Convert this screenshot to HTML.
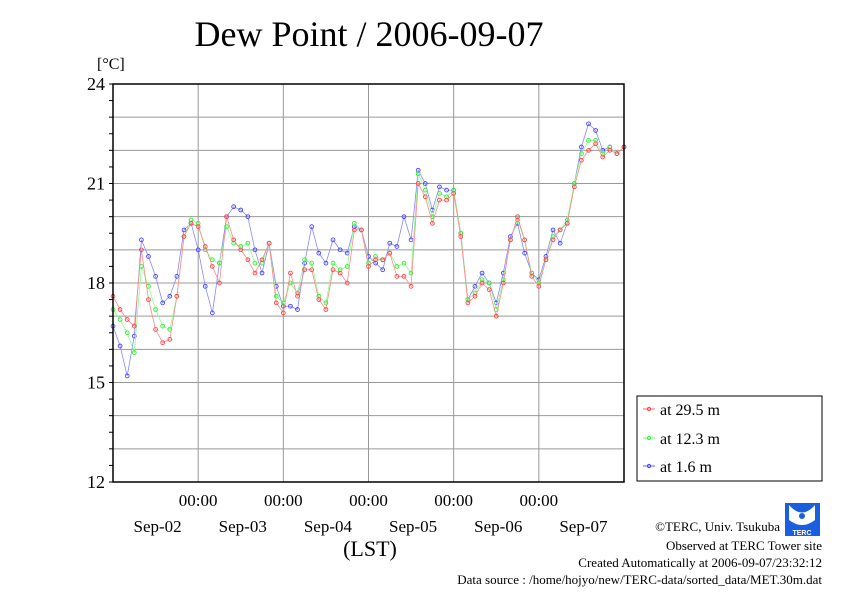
<!DOCTYPE html>
<html><head><meta charset="utf-8"><style>
html,body{margin:0;padding:0;background:#fff;}
svg{display:block;font-family:"Liberation Serif",serif;}
</style></head><body>
<svg id="chart" width="842" height="595" viewBox="0 0 842 595">
<rect width="842" height="595" fill="#fff"/>
<text x="369" y="46" font-size="36" text-anchor="middle">Dew Point / 2006-09-07</text>
<text x="97" y="69" font-size="16">[°C]</text>
<g id="grid"></g>
<g id="series"></g>
<rect x="113" y="84" width="511" height="398" fill="none" stroke="#000" stroke-width="1.5"/>
<g id="axes"></g>
<text x="370" y="556" font-size="22" text-anchor="middle">(LST)</text>
<g>
<rect x="637" y="396" width="185" height="85" fill="#fff" stroke="#000" stroke-width="1"/>
<g><line x1="643" y1="409" x2="655" y2="409" stroke="#f66"/><circle cx="649" cy="409" r="1.6" fill="none" stroke="#f44"/><text x="660" y="415" font-size="16">at 29.5 m</text></g>
<g><line x1="643" y1="438" x2="655" y2="438" stroke="#6f6"/><circle cx="649" cy="438" r="1.6" fill="none" stroke="#3e3"/><text x="660" y="444" font-size="16">at 12.3 m</text></g>
<g><line x1="643" y1="466" x2="655" y2="466" stroke="#66f"/><circle cx="649" cy="466" r="1.6" fill="none" stroke="#44f"/><text x="660" y="472" font-size="16">at 1.6 m</text></g>
</g>
<g>
<rect x="785" y="503" width="35" height="33" fill="#1a5fe0"/>
<path d="M789 505 Q802 520 815 505 L815 520 Q802 530 789 520 Z" fill="#fff"/>
<circle cx="802" cy="516" r="3" fill="#1a5fe0"/>
<text x="802" y="535" font-size="7" fill="#fff" text-anchor="middle" font-family="Liberation Sans,sans-serif" font-weight="bold">TERC</text>
</g>
<g font-size="13" text-anchor="end">
<text x="780" y="531">©TERC, Univ. Tsukuba</text>
<text x="822" y="550">Observed at TERC Tower site</text>
<text x="822" y="567">Created Automatically at 2006-09-07/23:32:12</text>
<text x="822" y="584">Data source : /home/hojyo/new/TERC-data/sorted_data/MET.30m.dat</text>
</g>
</svg>
<script>
const hours = [0,2,4,6,8,10,12,14,16,18,20,22,24,26,28,30,32,34,36,38,40,42,44,46,48,50,52,54,56,58,60,62,64,66,68,70,72,74,76,78,80,82,84,86,88,90,92,94,96,98,100,102,104,106,108,110,112,114,116,118,120,122,124,126,128,130,132,134,136,138,140,142,144];
const red29 = [17.6,17.2,16.9,16.7,19.0,17.5,16.6,16.2,16.3,17.6,19.4,19.8,19.7,19.1,18.5,18.0,20.0,19.3,19.0,18.7,18.3,18.7,19.2,17.4,17.1,18.3,17.6,18.4,18.4,17.5,17.2,18.4,18.3,18.0,19.6,19.6,18.5,18.7,18.7,18.9,18.2,18.2,17.9,21.0,20.6,19.8,20.5,20.5,20.7,19.4,17.4,17.6,18.0,17.8,17.0,18.0,19.3,20.0,19.3,18.2,17.9,18.7,19.3,19.6,19.8,20.9,21.7,22.0,22.2,21.8,22.0,21.9,22.1];
const green12 = [17.2,16.9,16.5,15.9,18.5,17.9,17.2,16.7,16.6,17.6,19.4,19.9,19.8,19.0,18.7,18.6,19.7,19.2,19.1,19.2,18.6,18.6,19.2,17.6,17.4,18.0,17.7,18.7,18.6,17.6,17.4,18.6,18.4,18.5,19.8,19.6,18.6,18.8,18.7,18.9,18.5,18.6,18.3,21.3,20.8,20.0,20.7,20.6,20.8,19.5,17.5,17.7,18.1,18.0,17.2,18.1,19.3,19.9,19.3,18.3,18.0,18.7,19.4,19.6,19.9,21.0,21.9,22.3,22.3,21.9,22.1,21.9,22.1];
const blue16 = [16.7,16.1,15.2,16.4,19.3,18.8,18.2,17.4,17.6,18.2,19.6,19.8,19.0,17.9,17.1,18.6,20.0,20.3,20.2,20.0,19.0,18.3,19.2,17.9,17.3,17.3,17.2,18.6,19.7,18.9,18.6,19.3,19.0,18.9,19.7,19.6,18.8,18.6,18.4,19.2,19.1,20.0,19.3,21.4,21.0,20.2,20.9,20.8,20.8,19.5,17.5,17.9,18.3,18.0,17.4,18.3,19.4,19.8,18.9,18.3,18.1,18.8,19.6,19.2,19.8,21.0,22.1,22.8,22.6,22.0,22.1,21.9,22.1];
const yTicks = [12,15,18,21,24];
const xTickLabels = ["00:00","00:00","00:00","00:00","00:00"];
const dayLabels = ["Sep-02","Sep-03","Sep-04","Sep-05","Sep-06","Sep-07"];

const X0=113, X1=624, Y0=482, Y1=84, YMIN=12, YMAX=24, HMAX=144;
const xs = h => X0 + (X1-X0)*h/HMAX;
const ys = v => Y0 - (Y0-Y1)*(v-YMIN)/(YMAX-YMIN);
const NS="http://www.w3.org/2000/svg";
function mk(tag, attrs, parent){const e=document.createElementNS(NS,tag);for(const k in attrs)e.setAttribute(k,attrs[k]);parent.appendChild(e);return e;}
const grid=document.getElementById('grid'), axes=document.getElementById('axes'), ser=document.getElementById('series');

for(let v=YMIN+1; v<YMAX; v++){
  const l=mk('line',{x1:X0,x2:X1,y1:ys(v),y2:ys(v),stroke:'#999','stroke-width':1},grid);
  
  
}
for(let d=1; d<6; d++){
  const l=mk('line',{x1:xs(d*24),x2:xs(d*24),y1:Y1,y2:Y0,stroke:'#999','stroke-width':1},grid);
  
  
}
for(let v=YMIN; v<=YMAX; v+=0.5){
  const l=mk('line',{x1:X0-4,x2:X0,y1:ys(v),y2:ys(v),stroke:'#000'},axes);
  
  
}
yTicks.forEach(v=>{
  const t=mk('text',{x:X0-8,y:ys(v)+6,'font-size':18,'text-anchor':'end'},axes);
  t.textContent=v;
  
  
});
xTickLabels.forEach((s,i)=>{
  const t=mk('text',{x:xs((i+1)*24),y:506,'font-size':17,'text-anchor':'middle'},axes);
  t.textContent=s;
  
  
});
dayLabels.forEach((s,i)=>{
  const t=mk('text',{x:xs(i*24+12)+2,y:532,'font-size':17,'text-anchor':'middle'},axes);
  t.textContent=s;
  
  
});

function drawSeries(vals, line, mark, name){
  const g=mk('g',{},ser);
  
  
  const pts=vals.map((v,i)=>xs(hours[i]).toFixed(1)+','+ys(v).toFixed(1)).join(' ');
  const pl=mk('polyline',{points:pts,fill:'none',stroke:line,'stroke-width':0.8},g);
  
  
  vals.forEach((v,i)=>{
    const c=mk('circle',{cx:xs(hours[i]),cy:ys(v),r:1.9,fill:'none',stroke:mark,'stroke-width':0.9},g);
    
    
  });
}
drawSeries(blue16,'#88f','#44f','series-1-6m');
drawSeries(green12,'#8f8','#3e3','series-12-3m');
drawSeries(red29,'#f88','#f44','series-29-5m');
</script>
</body></html>
